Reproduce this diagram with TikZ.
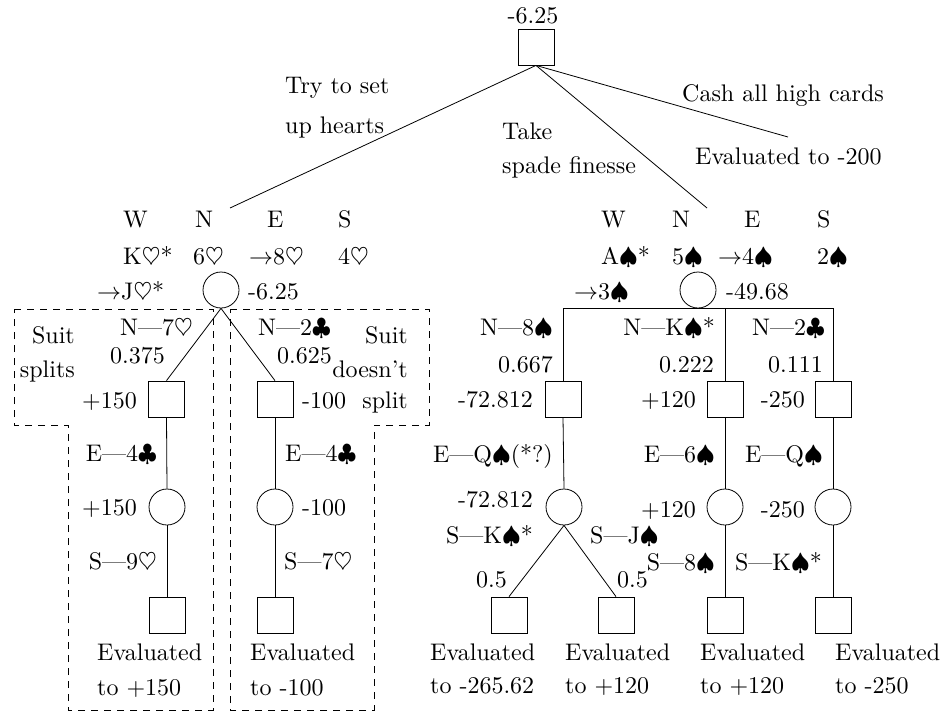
\RequirePackage{fix-cm}
\documentclass[tikz,border=0pt]{standalone}
\usepackage{fontspec}
\setmainfont{lmroman10-regular.otf}
\newcommand{\Hs}{$\heartsuit$}
\newcommand{\Cs}{$\clubsuit$}
\newcommand{\Ss}{$\spadesuit$}
\newcommand{\Ar}{$\rightarrow$}
\newcommand{\Dsh}{\textemdash}
\begin{document}
\begin{tikzpicture}[x=1pt,y=-1pt,
  decbox/.style={draw, rectangle, minimum size=36pt, inner sep=0pt, line width=0.8pt},
  chance/.style={draw, circle, minimum size=36pt, inner sep=0pt, line width=0.8pt},
  lbl/.style={inner sep=0pt, font=\fontsize{24}{29}\selectfont},
  L/.style={lbl, anchor=base west},
  R/.style={lbl, anchor=base east},
  conn/.style={line width=0.8pt},
  grp/.style={line width=0.8pt, dash pattern=on 7pt off 6pt}]
\useasboundingbox (0,0) rectangle (941,716);
% ---------- root ----------
\node[decbox] (root) at (536,47) {};
\node[lbl, anchor=base] (rootv) at (533,23) {-6.25};
\coordinate (hearts) at (230,208);
\coordinate (spades) at (707,208);
\coordinate (cash) at (788,137);
\draw[conn] (root.south) -- (hearts);
\draw[conn] (root.south) -- (spades);
\draw[conn] (root.south) -- (cash);
\node[L] (t1a) at (285,93) {Try to set};
\node[L] (t1b) at (285,133) {up hearts};
\node[L] (t2a) at (502,139) {Take};
\node[L] (t2b) at (502,173) {spade finesse};
\node[L] (t3a) at (682,101) {Cash all high cards};
\node[L] (t3b) at (695,164) {Evaluated to -200};
% ---------- hearts subtree ----------
\node[L] (hW) at (123,227) {W};
\node[L] (hN) at (195,227) {N};
\node[L] (hE) at (267,227) {E};
\node[L] (hS) at (338,227) {S};
\node[L] (hW2) at (123,264) {K\Hs*};
\node[L] (hN2) at (193,264) {6\Hs};
\node[L] (hE2) at (249,264) {\Ar8\Hs};
\node[L] (hS2) at (338,264) {4\Hs};
\node[L] (hW3) at (97,299) {\Ar J\Hs*};
\node[chance] (C1) at (221,290) {};
\node[L] (C1v) at (248,299) {-6.25};
\node[decbox] (L1) at (166.5,399) {};
\node[decbox] (R1) at (275,399) {};
\draw[conn] (C1.south) -- (L1.north);
\draw[conn] (C1.south) -- (R1.north);
\node[R] (l1a) at (193,335) {N\Dsh7\Hs};
\node[R] (l1b) at (165,363) {0.375};
\node[R] (L1v) at (137,408) {+150};
\node[L] (r1a) at (258,335) {N\Dsh2\Cs};
\node[L] (r1b) at (277,363) {0.625};
\node[L] (R1v) at (302,408) {-100};
\node[R] (sa1) at (75,343) {Suit};
\node[R] (sa2) at (75,377) {splits};
\node[R] (sb1) at (408,343) {Suit};
\node[R] (sb2) at (408,377) {doesn't};
\node[R] (sb3) at (408,408) {split};
\node[chance] (L2) at (167,507) {};
\node[decbox] (L3) at (167,615) {};
\draw[conn] (L1.south) -- (L2.north);
\draw[conn] (L2.south) -- (L3.north);
\node[R] (l2a) at (157,461) {E\Dsh4\Cs};
\node[R] (L2v) at (137,515) {+150};
\node[R] (l3a) at (157,569) {S\Dsh9\Hs};
\node[L] (L3e) at (97,660) {Evaluated};
\node[L] (L3f) at (97,695) {to +150};
\node[chance] (R2) at (275,507) {};
\node[decbox] (R3) at (275,615) {};
\draw[conn] (R1.south) -- (R2.north);
\draw[conn] (R2.south) -- (R3.north);
\node[L] (r2a) at (285,461) {E\Dsh4\Cs};
\node[L] (R2v) at (302,515) {-100};
\node[L] (r3a) at (284,569) {S\Dsh7\Hs};
\node[L] (R3e) at (250,660) {Evaluated};
\node[L] (R3f) at (250,695) {to -100};
\draw[grp] (14,309) -- (213,309) -- (213,710) -- (68,710) -- (68,425) -- (14,425) -- cycle;
\draw[grp] (230,309) -- (429,309) -- (429,425) -- (374,425) -- (374,710) -- (230,710) -- cycle;
% ---------- spades subtree ----------
\node[L] (sW) at (601,227) {W};
\node[L] (sN) at (672,227) {N};
\node[L] (sE) at (744,227) {E};
\node[L] (sS) at (817,227) {S};
\node[L] (sW2) at (601,264) {A\Ss*};
\node[L] (sN2) at (672,264) {5\Ss};
\node[L] (sE2) at (718,264) {\Ar4\Ss};
\node[L] (sS2) at (817,264) {2\Ss};
\node[L] (sW3) at (574,299) {\Ar3\Ss};
\node[chance] (C2) at (698,290) {};
\node[L] (C2v) at (726,299) {-49.68};
\node[decbox] (S1) at (563,399) {};
\node[decbox] (S2) at (725,399) {};
\node[decbox] (S3) at (833,399) {};
\draw[conn] (S1.north) -- (S1.north |- C2.south) -- (S3.north |- C2.south) -- (S3.north);
\draw[conn] (S2.north) -- (S2.north |- C2.south);
\node[R] (s1a) at (553,335) {N\Dsh8\Ss};
\node[R] (s1b) at (553,372) {0.667};
\node[R] (S1v) at (533,407) {-72.812};
\node[R] (s2a) at (715,335) {N\Dsh K\Ss*};
\node[R] (s2b) at (714,372) {0.222};
\node[R] (S2v) at (696,407) {+120};
\node[R] (s3a) at (825,335) {N\Dsh2\Cs};
\node[R] (s3b) at (823,372) {0.111};
\node[R] (S3v) at (805,407) {-250};
\node[chance] (D1) at (564,507) {};
\node[chance] (D2) at (725,507) {};
\node[chance] (D3) at (833,507) {};
\draw[conn] (S1.south) -- (D1.north);
\draw[conn] (S2.south) -- (D2.north);
\draw[conn] (S3.south) -- (D3.north);
\node[R] (d1a) at (553,462) {E\Dsh Q\Ss(*?)};
\node[R] (d2a) at (715,462) {E\Dsh6\Ss};
\node[R] (d3a) at (823,462) {E\Dsh Q\Ss};
\node[R] (D1v) at (533,507) {-72.812};
\node[R] (D2v) at (696,517) {+120};
\node[R] (D3v) at (805,517) {-250};
\node[decbox] (B1) at (509,615) {};
\node[decbox] (B2) at (616,615) {};
\node[decbox] (B3) at (725,615) {};
\node[decbox] (B4) at (833,615) {};
\draw[conn] (D1.south) -- (B1.north);
\draw[conn] (D1.south) -- (B2.north);
\draw[conn] (D2.south) -- (B3.north);
\draw[conn] (D3.south) -- (B4.north);
\node[R] (b1a) at (533,543) {S\Dsh K\Ss*};
\node[L] (b2a) at (590,543) {S\Dsh J\Ss};
\node[R] (b1p) at (507,587) {0.5};
\node[L] (b2p) at (617,587) {0.5};
\node[R] (b3a) at (715,570) {S\Dsh8\Ss};
\node[R] (b4a) at (822,570) {S\Dsh K\Ss*};
\node[L] (B1e) at (430,660) {Evaluated};
\node[L] (B1f) at (430,693) {to -265.62};
\node[L] (B2e) at (565,660) {Evaluated};
\node[L] (B2f) at (565,693) {to +120};
\node[L] (B3e) at (700,660) {Evaluated};
\node[L] (B3f) at (700,693) {to +120};
\node[L] (B4e) at (835,660) {Evaluated};
\node[L] (B4f) at (835,693) {to -250};
\end{tikzpicture}
\end{document}
